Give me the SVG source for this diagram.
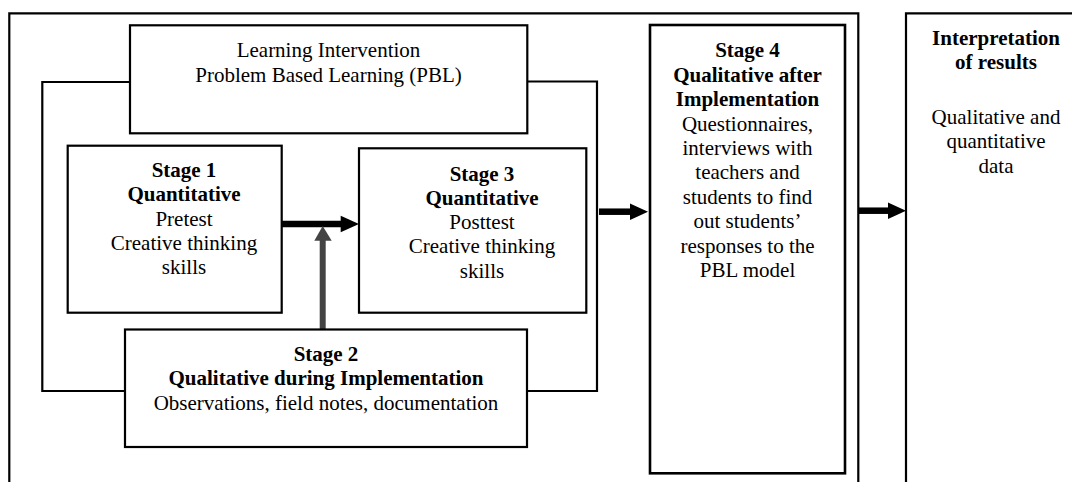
<svg xmlns="http://www.w3.org/2000/svg" width="1072" height="482" viewBox="0 0 1072 482">
<style>
.box{fill:#fff;stroke:#000;stroke-width:2.2}
.line{fill:none;stroke:#000;stroke-width:2.2}
.shaft{stroke:#000;stroke-width:6.5;fill:none}
.head{fill:#000}
.gshaft{stroke:#444;stroke-width:6;fill:none}
.ghead{fill:#444}
text{font-family:"Liberation Serif","Times New Roman",serif;font-size:21px;text-anchor:middle;fill:#000}
.b{font-weight:bold}
</style>
<rect width="1072" height="482" fill="#fff"/>
<g id="frame-main">
<path class="line" d="M9.3,484 V13.3 H858.3 V484"/>
</g>
<g id="frame-interpretation">
<path class="line" d="M906,484 V13.3 H1076"/>
</g>
<g id="connectors">
<path class="line" d="M130,82 H42.3 V391 H125"/>
<path class="line" d="M527,81.5 H597 V391 H527"/>
<line class="shaft" x1="282" y1="224" x2="342" y2="224"/>
<polygon class="head" points="340.7,215.7 359,224 340.7,232.3"/>
<line class="gshaft" x1="322.7" y1="329" x2="322.7" y2="239"/>
<polygon class="ghead" points="314.3,240.7 331.7,240.7 322.7,226"/>
<line class="shaft" x1="599" y1="211.7" x2="631" y2="211.7"/>
<polygon class="head" points="630,203.5 648,211.7 630,219.9"/>
<line class="shaft" x1="859" y1="210.7" x2="889" y2="210.7"/>
<polygon class="head" points="888,202.5 906,210.7 888,218.9"/>
</g>
<g id="intervention">
<rect class="box" x="130" y="25.3" width="397.3" height="108"/>
<text x="328.5" y="57">Learning Intervention</text>
<text x="328.5" y="81.5">Problem Based Learning (PBL)</text>
</g>
<g id="stage1">
<rect class="box" x="67.7" y="145.7" width="214" height="167"/>
<text class="b" x="184" y="177">Stage 1</text>
<text class="b" x="184" y="201.3">Quantitative</text>
<text x="184" y="225.6">Pretest</text>
<text x="184" y="250">Creative thinking</text>
<text x="184" y="274.2">skills</text>
</g>
<g id="stage3">
<rect class="box" x="359" y="148.3" width="227.3" height="164.4"/>
<text class="b" x="482" y="180.5">Stage 3</text>
<text class="b" x="482" y="204.8">Quantitative</text>
<text x="482" y="229">Posttest</text>
<text x="482" y="253.3">Creative thinking</text>
<text x="482" y="277.6">skills</text>
</g>
<g id="stage2">
<rect class="box" x="125" y="329.5" width="402" height="117.5"/>
<text class="b" x="326" y="360.5">Stage 2</text>
<text class="b" x="326" y="385">Qualitative during Implementation</text>
<text x="326" y="409.5">Observations, field notes, documentation</text>
</g>
<g id="stage4">
<rect class="box" x="650" y="25" width="195" height="448.3" style="stroke-width:2.6"/>
<text class="b" x="747.5" y="57.3">Stage 4</text>
<text class="b" x="747.5" y="81.7">Qualitative after</text>
<text class="b" x="747.5" y="106">Implementation</text>
<text x="747.5" y="130.5">Questionnaires,</text>
<text x="747.5" y="155">interviews with</text>
<text x="747.5" y="179.3">teachers and</text>
<text x="747.5" y="203.8">students to find</text>
<text x="747.5" y="228.2">out students’</text>
<text x="747.5" y="252.7">responses to the</text>
<text x="747.5" y="277">PBL model</text>
</g>
<g id="interpretation">
<text class="b" x="996" y="45">Interpretation</text>
<text class="b" x="996" y="69.3">of results</text>
<text x="996" y="124">Qualitative and</text>
<text x="996" y="148.3">quantitative</text>
<text x="996" y="173">data</text>
</g>
</svg>
